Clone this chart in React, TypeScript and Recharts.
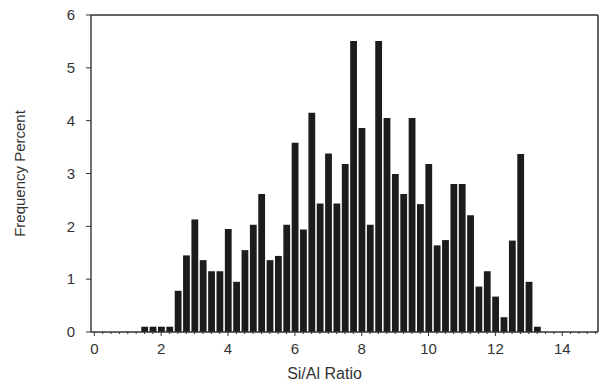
import React from 'react';
import { BarChart, Bar, XAxis, YAxis } from 'recharts';

const siAlRatio = [
  1.5, 1.75, 2.0, 2.25, 2.5, 2.75, 3.0, 3.25, 3.5, 3.75,
  4.0, 4.25, 4.5, 4.75, 5.0, 5.25, 5.5, 5.75, 6.0, 6.25,
  6.5, 6.75, 7.0, 7.25, 7.5, 7.75, 8.0, 8.25, 8.5, 8.75,
  9.0, 9.25, 9.5, 9.75, 10.0, 10.25, 10.5, 10.75, 11.0, 11.25,
  11.5, 11.75, 12.0, 12.25, 12.5, 12.75, 13.0, 13.25,
];

const frequencyPercent = [
  0.1, 0.1, 0.1, 0.1, 0.78, 1.45, 2.13, 1.36, 1.15, 1.15,
  1.95, 0.95, 1.55, 2.03, 2.61, 1.36, 1.44, 2.03, 3.58, 1.94,
  4.15, 2.43, 3.38, 2.43, 3.18, 5.51, 3.86, 2.03, 5.51, 4.05,
  2.99, 2.61, 4.05, 2.42, 3.18, 1.64, 1.74, 2.8, 2.8, 2.21,
  0.86, 1.15, 0.67, 0.28, 1.73, 3.37, 0.95, 0.1,
];

const xMajorTicks = [0, 2, 4, 6, 8, 10, 12, 14];
const xMinorStep = 0.25;
const xMinorTicks = Array.from({ length: 61 }, (_, i) => i * xMinorStep);
const yTicks = [0, 1, 2, 3, 4, 5, 6];

const xDomain: [number, number] = [-0.1, 15.07];
const yDomain: [number, number] = [0, 6];

const data = siAlRatio.map((r, i) => ({ ratio: r, freq: frequencyPercent[i] }));

const ink = '#333';

const CHART_W = 600;
const CHART_H = 374;
const MARGIN = { top: 7, right: 10, bottom: 0, left: 0 };
const Y_AXIS_W = 83;
const X_AXIS_H = 50;
const PLOT_W = CHART_W - MARGIN.left - MARGIN.right - Y_AXIS_W;
const PLOT_H = CHART_H - MARGIN.top - MARGIN.bottom - X_AXIS_H;
const FRAME_W = 1.5;

const XTick = (props: any) => {
  const { x, y, payload } = props;
  const v = payload.value;
  const major = xMajorTicks.includes(v);
  return (
    <g>
      <line x1={x} x2={x} y1={y} y2={y + (major ? 4 : 2)} stroke={ink} strokeWidth={1} />
      {major && (
        <text x={x} y={y + 22} textAnchor="middle" fontSize={15} fill={ink}>
          {v}
        </text>
      )}
    </g>
  );
};

const YTick = (props: any) => {
  const { x, y, payload, index } = props;
  const v = payload.value;
  const isTop = index === yTicks.length - 1 || Number(v) === yDomain[1];
  return (
    <g>
      <line x1={x - 5} x2={x} y1={y} y2={y} stroke={ink} strokeWidth={1} />
      <text x={x - 16} y={y + 5.3} textAnchor="end" fontSize={15} fill={ink}>
        {v}
      </text>
      {isTop && (
        <g>
          <rect x={x} y={y - FRAME_W / 2} width={PLOT_W} height={FRAME_W} fill={ink} />
          <rect x={x + PLOT_W - FRAME_W / 2} y={y} width={FRAME_W} height={PLOT_H} fill={ink} />
        </g>
      )}
    </g>
  );
};

export default function App() {
  return (
    <div style={{ fontFamily: '"Liberation Sans", Arial, sans-serif' }}>
      <BarChart width={CHART_W} height={CHART_H} data={data} margin={MARGIN}>
        <XAxis
          dataKey="ratio"
          type="number"
          domain={xDomain}
          allowDataOverflow
          ticks={xMinorTicks}
          interval={0}
          tick={<XTick />}
          tickLine={false}
          tickSize={0}
          tickMargin={0}
          height={X_AXIS_H}
          axisLine={{ stroke: ink, strokeWidth: 1.4 }}
          label={{ value: 'Si/Al Ratio', position: 'insideBottom', offset: 3, dx: -20, fontSize: 16, fill: ink }}
        />
        <YAxis
          type="number"
          domain={yDomain}
          ticks={yTicks}
          interval={0}
          width={Y_AXIS_W}
          tickSize={0}
          tickMargin={0}
          tick={<YTick />}
          tickLine={false}
          axisLine={{ stroke: ink, strokeWidth: 1.4 }}
          label={{
            value: 'Frequency Percent',
            angle: -90,
            position: 'insideLeft',
            offset: 12,
            fontSize: 15,
            fill: ink,
            style: { textAnchor: 'middle' },
          }}
        />
        <Bar dataKey="freq" fill="#1c1c1c" barSize={6.8} isAnimationActive={false} />
      </BarChart>
    </div>
  );
}
